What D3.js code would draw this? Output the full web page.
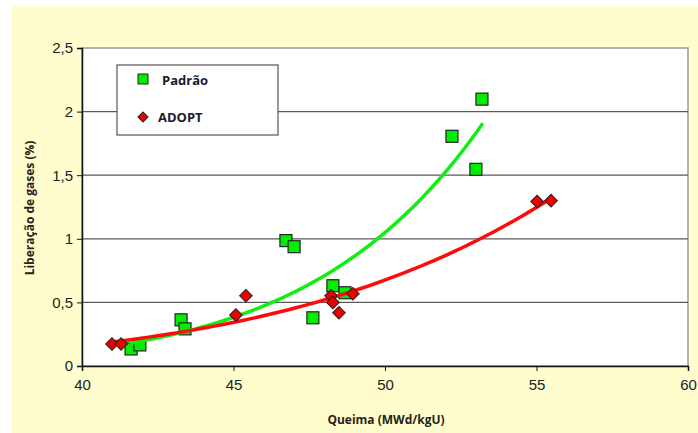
<!DOCTYPE html>
<html>
<head>
<meta charset="utf-8">
<script src="https://cdn.jsdelivr.net/npm/d3@7"></script>
<style>
  body { margin: 0; background: #ffffff; }
</style>
</head>
<body>
<script>
var WIDTH = 698;
var HEIGHT = 433;

// Padrão (green squares)
var padraoX = [41.62, 41.91, 43.27, 43.40, 46.73, 47.00, 47.62, 48.28, 48.68, 52.21, 53.00, 53.20];
var padraoY = [0.134, 0.166, 0.363, 0.292, 0.986, 0.938, 0.379, 0.631, 0.576, 1.806, 1.546, 2.098];

// ADOPT (red diamonds)
var adoptX = [40.99, 41.29, 45.08, 45.41, 48.22, 48.28, 48.48, 48.94, 55.02, 55.48];
var adoptY = [0.173, 0.173, 0.400, 0.552, 0.552, 0.500, 0.418, 0.568, 1.293, 1.300];

var xTicks = [40, 45, 50, 55, 60];
var yTicks = [0, 0.5, 1, 1.5, 2, 2.5];

var svg = d3.select("body")
    .append("svg")
    .attr("width", WIDTH)
    .attr("height", HEIGHT);

// pale yellow chart area
svg.append("rect")
    .attr("x", 12)
    .attr("y", 6)
    .attr("width", WIDTH - 12)
    .attr("height", HEIGHT - 6)
    .attr("fill", "#fffdcd");

var plot = { left: 82, right: 688, top: 48, bottom: 366 };

var x = d3.scaleLinear().domain([40, 60]).range([plot.left, plot.right]);
var y = d3.scaleLinear().domain([0, 2.5]).range([plot.bottom, plot.top]);

svg.append("rect")
    .attr("x", plot.left)
    .attr("y", plot.top)
    .attr("width", plot.right - plot.left)
    .attr("height", plot.bottom - plot.top)
    .attr("fill", "white")
    .attr("stroke", "#9a9a9a")
    .attr("stroke-width", 1.5);

// gridlines
svg.selectAll(".grid")
    .data(yTicks.filter(d => d > 0 && d < 2.5))
    .enter()
    .append("line")
    .attr("x1", plot.left)
    .attr("x2", plot.right)
    .attr("y1", d => y(d))
    .attr("y2", d => y(d))
    .attr("stroke", "#5a5a5a")
    .attr("stroke-width", 1.2);

var fmt = d => String(d).replace(".", ",");

var yAxis = svg.append("g")
    .attr("transform", "translate(" + plot.left + ",0)")
    .call(d3.axisLeft(y).tickValues(yTicks).tickFormat(fmt).tickSize(5).tickPadding(4));

var xAxis = svg.append("g")
    .attr("transform", "translate(0," + plot.bottom + ")")
    .call(d3.axisBottom(x).tickValues(xTicks).tickFormat(fmt).tickSize(5).tickPadding(8));

[yAxis, xAxis].forEach(function(g) {
    g.select(".domain").attr("stroke", "#111").attr("stroke-width", 1.5);
    g.selectAll(".tick line").attr("stroke", "#111");
    g.selectAll(".tick text")
        .attr("font-family", "Arial, 'Liberation Sans', sans-serif")
        .attr("font-size", "15px")
        .attr("fill", "#222");
});

// power trend line (least squares on ln x, ln y), like a spreadsheet trendline
function powerFit(xs, ys) {
    var lx = xs.map(Math.log);
    var ly = ys.map(Math.log);
    var mx = d3.mean(lx), my = d3.mean(ly);
    var sxy = 0, sxx = 0;
    for (var i = 0; i < lx.length; i++) {
        sxy += (lx[i] - mx) * (ly[i] - my);
        sxx += (lx[i] - mx) * (lx[i] - mx);
    }
    var b = sxy / sxx;
    var a = my - b * mx;
    return function(v) { return Math.exp(a + b * Math.log(v)); };
}

function trendPoints(xs, ys) {
    var f = powerFit(xs, ys);
    var lo = d3.min(xs), hi = d3.max(xs);
    return d3.range(0, 61).map(i => {
        var v = lo + (hi - lo) * i / 60;
        return [v, f(v)];
    });
}

var line = d3.line().x(d => x(d[0])).y(d => y(d[1]));

var SQ = 12;
var padraoData = padraoX.map((v, i) => [v, padraoY[i]]);
var adoptData = adoptX.map((v, i) => [v, adoptY[i]]);

svg.selectAll(".padrao")
    .data(padraoData)
    .enter()
    .append("rect")
    .attr("x", d => x(d[0]) - SQ / 2)
    .attr("y", d => y(d[1]) - SQ / 2)
    .attr("width", SQ)
    .attr("height", SQ)
    .attr("fill", "#00ee00")
    .attr("stroke", "#222")
    .attr("stroke-width", 1.2);

svg.append("path")
    .attr("d", line(trendPoints(padraoX, padraoY)))
    .attr("fill", "none")
    .attr("stroke", "#11ee11")
    .attr("stroke-width", 3.5)
    .attr("stroke-linecap", "round");

svg.append("path")
    .attr("d", line(trendPoints(adoptX, adoptY)))
    .attr("fill", "none")
    .attr("stroke", "#ff0a0a")
    .attr("stroke-width", 3.5)
    .attr("stroke-linecap", "round");

var diamond = d3.symbol().type(d3.symbolSquare).size(80);

svg.selectAll(".adopt")
    .data(adoptData)
    .enter()
    .append("path")
    .attr("d", diamond)
    .attr("transform", d => "translate(" + x(d[0]) + "," + y(d[1]) + ") rotate(45)")
    .attr("fill", "#ee0000")
    .attr("stroke", "#222")
    .attr("stroke-width", 1);

// legend
var legend = svg.append("g");
legend.append("rect")
    .attr("x", 117)
    .attr("y", 65)
    .attr("width", 161)
    .attr("height", 70)
    .attr("fill", "white")
    .attr("stroke", "#555")
    .attr("stroke-width", 1.2);

legend.append("rect")
    .attr("x", 138)
    .attr("y", 74)
    .attr("width", 10)
    .attr("height", 10)
    .attr("fill", "#00ee00")
    .attr("stroke", "#222");

legend.append("path")
    .attr("d", d3.symbol().type(d3.symbolSquare).size(50))
    .attr("transform", "translate(143,117) rotate(45)")
    .attr("fill", "#ee0000")
    .attr("stroke", "#222");

legend.append("text")
    .attr("x", 162)
    .attr("y", 80)
    .attr("dy", ".35em")
    .text("Padrão")
    .attr("font-family", "'Open Sans', sans-serif")
    .attr("font-size", "13px")
    .attr("font-weight", "bold")
    .attr("fill", "#1a1a2a");

legend.append("text")
    .attr("x", 158)
    .attr("y", 117)
    .attr("dy", ".35em")
    .text("ADOPT")
    .attr("font-family", "'Open Sans', sans-serif")
    .attr("font-size", "13px")
    .attr("font-weight", "bold")
    .attr("fill", "#1a1a2a");

// axis titles
svg.append("text")
    .attr("x", 386)
    .attr("y", 420)
    .attr("dy", ".35em")
    .attr("text-anchor", "middle")
    .text("Queima (MWd/kgU)")
    .attr("font-family", "'Open Sans', sans-serif")
    .attr("font-size", "12px")
    .attr("font-weight", "bold")
    .attr("fill", "#2a2218");

svg.append("text")
    .attr("transform", "translate(30,208) rotate(-90)")
    .attr("dy", ".35em")
    .attr("text-anchor", "middle")
    .text("Liberação de gases (%)")
    .attr("font-family", "'Open Sans', sans-serif")
    .attr("font-size", "12px")
    .attr("font-weight", "bold")
    .attr("fill", "#2a2218");
</script>
</body>
</html>
